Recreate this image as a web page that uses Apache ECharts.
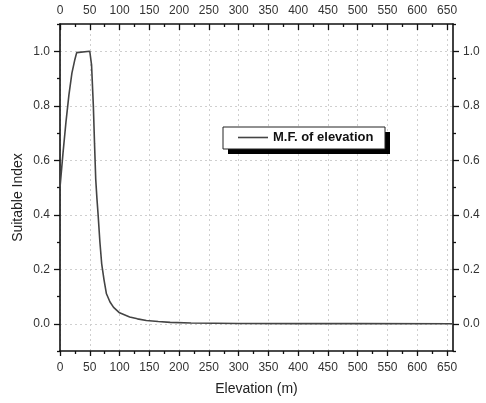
<!DOCTYPE html>
<html><head><meta charset="utf-8">
<script src="https://cdn.jsdelivr.net/npm/echarts@6/dist/echarts.min.js"></script>
<style>html,body{margin:0;padding:0;background:#fff}#c{width:486px;height:403px}</style>
</head><body><div id="c"></div>
<script>
// Data
var elevation = [0, 5, 10, 15, 20, 25, 28, 30, 50, 51.5, 53, 56, 58, 60, 62, 64, 67, 70, 74, 78, 84, 90, 100, 117, 130, 145, 165, 185, 220, 260, 300, 400, 500, 660];
var suitability = [0.5, 0.625, 0.74, 0.84, 0.92, 0.97, 0.995, 1.0, 1.0, 1.0, 0.95, 0.80, 0.66, 0.53, 0.46, 0.40, 0.30, 0.22, 0.16, 0.11, 0.08, 0.06, 0.04, 0.025, 0.018, 0.012, 0.008, 0.005, 0.003, 0.002, 0.001, 0.0005, 0.0003, 0.0002];
var xMajorTicks = [0, 50, 100, 150, 200, 250, 300, 350, 400, 450, 500, 550, 600, 650];
var xMinorTicks = [25, 75, 125, 175, 225, 275, 325, 375, 425, 475, 525, 575, 625];
var yMajorTicks = [0, 0.2, 0.4, 0.6, 0.8, 1.0];
var yMinorTicks = [-0.1, 0.1, 0.3, 0.5, 0.7, 0.9, 1.1];
var seriesName = 'M.F. of elevation';
var xTitle = 'Elevation (m)';
var yTitle = 'Suitable Index';

var font = 'Arial, "Liberation Sans", sans-serif';
var pairs = elevation.map(function (x, i) { return [x, suitability[i]]; });

function xAxisDef(pos, major, inside, len, showName) {
  return {
    type: 'value', position: pos, min: 0, max: 660,
    name: showName ? xTitle : '', nameLocation: 'middle', nameGap: 31,
    nameTextStyle: { fontFamily: font, fontSize: 14, color: '#222' },
    axisLine: { show: major, onZero: false, lineStyle: { color: '#111', width: 1.6 } },
    axisTick: { show: true, inside: inside, length: len, customValues: major ? xMajorTicks : xMinorTicks, lineStyle: { color: '#111', width: 1.3 } },
    axisLabel: { show: major, customValues: xMajorTicks, fontFamily: font, fontSize: 12, color: '#333', margin: pos === 'bottom' ? 11 : 7 },
    splitLine: { show: major && pos === 'bottom', lineStyle: { color: '#cfcfcf', type: [2, 3], width: 1 } },
    minorTick: { show: false }
  };
}
function yAxisDef(pos, major, len, showName) {
  return {
    type: 'value', position: pos, min: -0.1, max: 1.1,
    name: showName ? yTitle : '', nameLocation: 'middle', nameGap: 35, nameMoveOverlap: false,
    nameTextStyle: { fontFamily: font, fontSize: 14, color: '#222', padding: [0, 20, 0, 0] },
    axisLine: { show: major, onZero: false, lineStyle: { color: '#111', width: 1.6 } },
    axisTick: { show: true, inside: false, length: len, customValues: major ? yMajorTicks : yMinorTicks, lineStyle: { color: '#111', width: 1.3 } },
    axisLabel: { show: major, customValues: yMajorTicks, fontFamily: font, fontSize: 12, color: '#333', margin: 10,
      formatter: function (v) { return v.toFixed(1); } },
    splitLine: { show: major && pos === 'left', lineStyle: { color: '#cfcfcf', type: [2, 3], width: 1 } },
    minorTick: { show: false }
  };
}

var chart = echarts.init(document.getElementById('c'), null, { renderer: 'canvas' });
chart.setOption({
  animation: false,
  backgroundColor: '#fff',
  grid: { left: 60, right: 33, top: 24, bottom: 52, containLabel: false },
  xAxis: [
    xAxisDef('bottom', true, false, 5, true),
    xAxisDef('bottom', false, false, 3, false),
    xAxisDef('top', true, true, 6, false),
    xAxisDef('top', false, true, 3, false)
  ],
  yAxis: [
    yAxisDef('left', true, 6, true),
    yAxisDef('left', false, 3, false),
    yAxisDef('right', true, 6, false),
    yAxisDef('right', false, 3, false)
  ],
  graphic: [
    { type: 'rect', z: 5, shape: { x: 228, y: 132, width: 162, height: 22 }, style: { fill: '#000' } },
    { type: 'rect', z: 6, shape: { x: 223, y: 127, width: 162, height: 22 }, style: { fill: '#fff', stroke: '#222', lineWidth: 1 } }
  ],
  legend: {
    show: true, left: 238, top: 131, orient: 'horizontal',
    z: 10,
    data: [{ name: seriesName, icon: 'rect' }],
    itemWidth: 30, itemHeight: 1.6, itemGap: 5,
    padding: 0,
    textStyle: { fontFamily: font, fontSize: 13, fontWeight: 'bold', color: '#111', padding: [1, 0, 0, 0] }
  },
  series: [{
    name: seriesName, type: 'line', xAxisIndex: 0, yAxisIndex: 0,
    data: pairs, symbol: 'none', smooth: false,
    lineStyle: { color: '#444', width: 1.6 },
    itemStyle: { color: '#444' }
  }]
});
</script></body></html>
